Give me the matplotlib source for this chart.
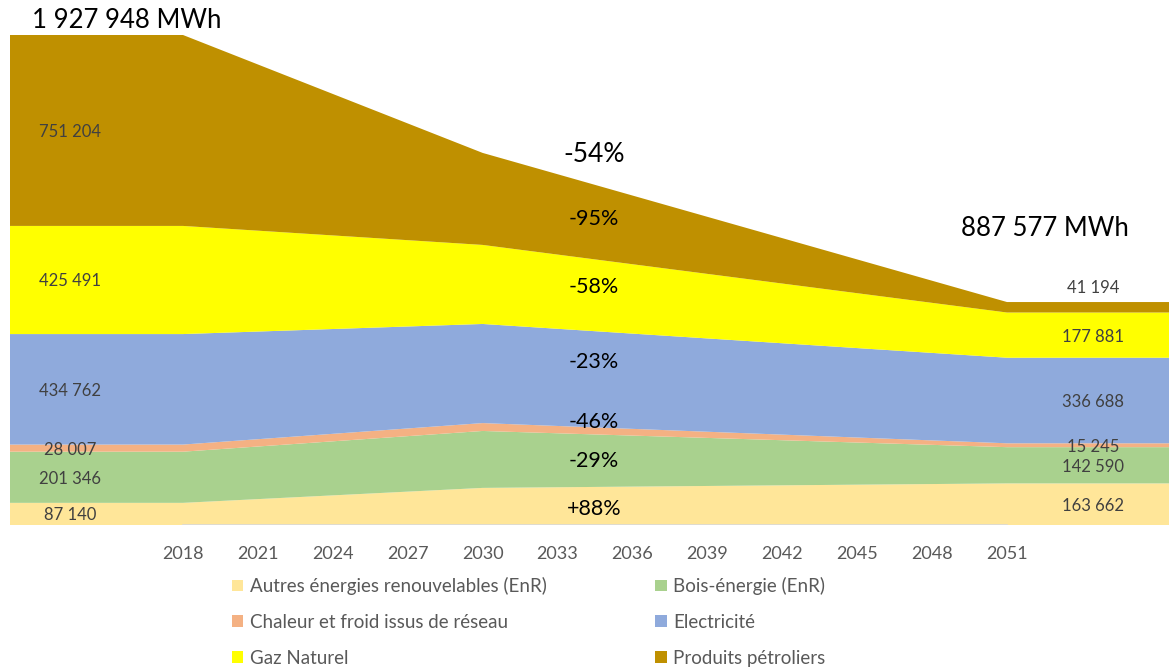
import matplotlib.pyplot as plt
import numpy as np
from matplotlib.patches import Patch

# data (MWh)
years = [2018, 2030, 2051]
autres = [87140, 146000, 163662]
bois = [201346, 224000, 142590]
chaleur = [28007, 31000, 15245]
elec = [434762, 390000, 336688]
gaz = [425491, 311000, 177881]
petrole = [751204, 362000, 41194]

names = ['Autres énergies renouvelables (EnR)', 'Bois-énergie (EnR)',
         'Chaleur et froid issus de réseau', 'Electricité',
         'Gaz Naturel', 'Produits pétroliers']
colors = ['#FFE699', '#A9D18E', '#F4B183', '#8FAADC', '#FFFF00', '#BF9000']
changes = ['+88%', '-29%', '-46%', '-23%', '-58%', '-95%']
total_change = '-54%'
total_start = '1 927 948 MWh'
total_end = '887 577 MWh'
ticks = list(range(2018, 2052, 3))

plt.rcParams['font.family'] = ['Lato', 'DejaVu Sans']

W, H = 1169, 669
fig = plt.figure(figsize=(W / 100, H / 100), dpi=100)
# pixel layout of the plot area
x0, xbase, xtop = 10, 525, 15
ax = fig.add_axes([x0 / W, (H - xbase) / H, (W - x0) / W, (xbase - xtop) / H])

px_year = (1007 - 183) / 33.0
xl = 2018 - (183 - x0) / px_year
xr = 2051 + (W - 1007) / px_year
mwh_px = 1927948 / 490.0

series = [autres, bois, chaleur, elec, gaz, petrole]
xs = [xl] + years + [xr]
padded = [[s[0]] + s + [s[-1]] for s in series]
ax.stackplot(xs, *padded, colors=colors, linewidth=0)
ax.plot([years[0], years[-1]], [0, 0], color='#d9d9d9', lw=1.2)

ax.set_xlim(xl, xr)
ax.set_ylim(0, (xbase - xtop) * mwh_px)
for s in ax.spines.values():
    s.set_visible(False)
ax.set_yticks([])
ax.set_xticks(ticks)
ax.set_xticklabels([str(t) for t in ticks])
ax.tick_params(axis='x', length=0, pad=15, labelsize=13, labelcolor='#595959')

def fmt(v):
    return f'{v:,}'.replace(',', ' ')

cum = np.cumsum([[s[0], s[-1]] for s in series], axis=0)
lx_left = 2018 - (183 - 70) / px_year
lx_right = 2051 + (1093 - 1007) / px_year
for i, s in enumerate(series):
    lo = cum[i - 1] if i > 0 else [0, 0]
    ax.text(lx_left, (lo[0] + cum[i][0]) / 2, fmt(s[0]), ha='center', va='center_baseline',
            fontsize=12, color='#404040')
    if i == len(series) - 1:
        ax.annotate(fmt(s[-1]), (lx_right, cum[i][1]), xytext=(0, 4),
                    textcoords='offset points', ha='center', va='bottom',
                    fontsize=12, color='#404040')
    else:
        ax.text(lx_right, (lo[1] + cum[i][1]) / 2, fmt(s[-1]), ha='center',
                va='center_baseline', fontsize=12, color='#404040')

# change labels placed by hand (pixel rows)
pct_x = 594 / W
pct_y = [509, 461, 422, 362, 287, 219]
for lab, y in zip(changes, pct_y):
    fig.text(pct_x, 1 - y / H, lab, ha='center', va='center', fontsize=15.5, color='black')
fig.text(pct_x, 1 - 155 / H, total_change, ha='center', va='center', fontsize=19)

fig.text(32 / W, 1 - 21 / H, total_start, ha='left', va='center', fontsize=18.5)
fig.text(1045 / W, 1 - 229 / H, total_end, ha='center', va='center', fontsize=18.5)

order = [0, 2, 4, 1, 3, 5]
handles = [Patch(facecolor=colors[i]) for i in order]
fig.legend(handles, [names[i] for i in order], ncol=2, loc='upper left',
           bbox_to_anchor=(232 / W, 1 - 577 / H), frameon=False, fontsize=13.5,
           handlelength=0.6, handleheight=0.6, handletextpad=0.35,
           labelspacing=1.0, columnspacing=5.8, labelcolor='#595959',
           borderaxespad=0, borderpad=0)

fig.savefig('out.png', dpi=100)
